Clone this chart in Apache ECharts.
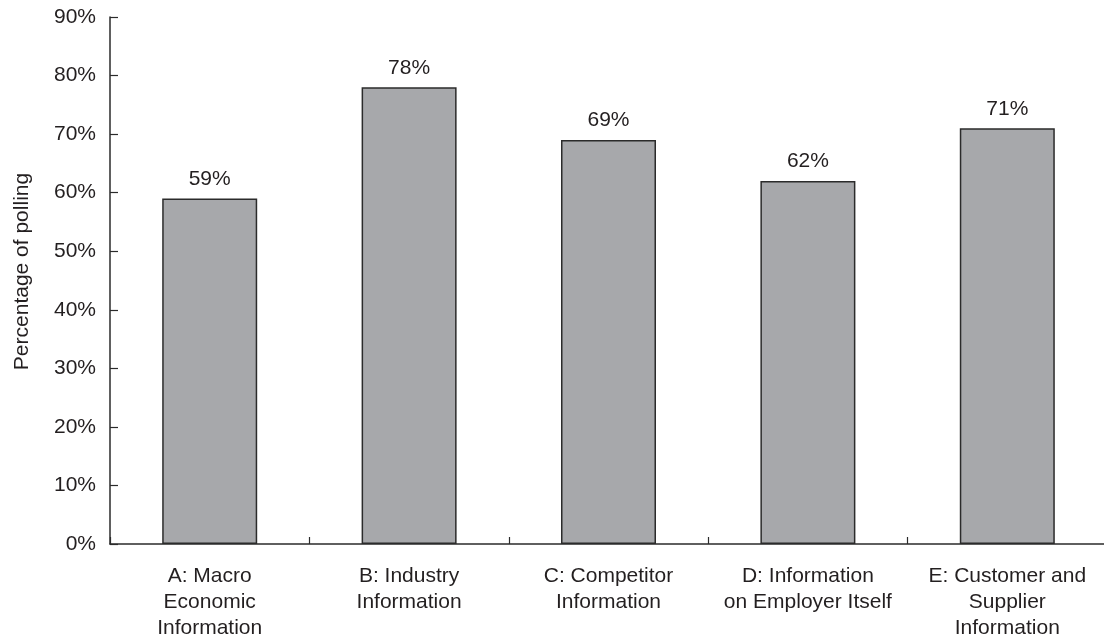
<!DOCTYPE html>
<html>
<head>
<meta charset="utf-8">
<script src="https://cdn.jsdelivr.net/npm/echarts@6/dist/echarts.min.js"></script>
<style>
  html, body { margin: 0; padding: 0; background: #fff; }
  #chart { width: 1104px; height: 640px; }
</style>
</head>
<body>
<div id="chart"></div>
<script>
// Survey: share of respondents polling each type of information
const categories = [
  'A: Macro\nEconomic\nInformation',
  'B: Industry\nInformation',
  'C: Competitor\nInformation',
  'D: Information\non Employer Itself',
  'E: Customer and\nSupplier\nInformation'
];
const percentages = [59, 78, 69, 62, 71];
const yTicks = { min: 0, max: 90, step: 10 };
const yAxisTitle = 'Percentage of polling';

const FONT = '"Liberation Sans", Arial, Helvetica, sans-serif';
const TEXT = '#231f20';
const LINE = '#2b2b2b';
const SIZE = 21;

const chart = echarts.init(document.getElementById('chart'), null, { renderer: 'canvas' });

chart.setOption({
  animation: false,
  backgroundColor: '#ffffff',
  textStyle: { fontFamily: FONT, color: TEXT },
  grid: { left: 110, right: -3, top: 17, bottom: 96, containLabel: false, outerBoundsMode: 'none' },
  xAxis: {
    type: 'category',
    data: categories,
    boundaryGap: true,
    axisLine: { show: true, lineStyle: { color: LINE, width: 1.5 } },
    axisTick: { show: true, inside: true, length: 7, lineStyle: { color: LINE, width: 1.2 } },
    axisLabel: {
      interval: 0,
      margin: 19,
      fontFamily: FONT,
      fontSize: SIZE,
      lineHeight: 26,
      color: TEXT,
      align: 'center'
    },
    splitLine: { show: false }
  },
  yAxis: {
    type: 'value',
    min: yTicks.min,
    max: yTicks.max,
    interval: yTicks.step,
    name: yAxisTitle,
    nameLocation: 'middle',
    nameGap: 77,
    nameRotate: 90,
    nameTextStyle: { fontFamily: FONT, fontSize: SIZE, color: TEXT, padding: [0, 0, 0, 18] },
    axisLine: { show: true, lineStyle: { color: LINE, width: 1.5 } },
    axisTick: { show: true, inside: true, length: 8, lineStyle: { color: LINE, width: 1.2 } },
    axisLabel: {
      formatter: '{value}%',
      margin: 14,
      fontFamily: FONT,
      fontSize: SIZE,
      color: TEXT
    },
    splitLine: { show: false }
  },
  series: [{
    type: 'bar',
    data: percentages,
    barWidth: 95,
    itemStyle: { color: '#a7a8ab', borderColor: LINE, borderWidth: 1.5 },
    label: {
      show: true,
      position: 'top',
      distance: 9,
      formatter: '{c}%',
      fontFamily: FONT,
      fontSize: SIZE,
      color: TEXT
    }
  }]
});
</script>
</body>
</html>
